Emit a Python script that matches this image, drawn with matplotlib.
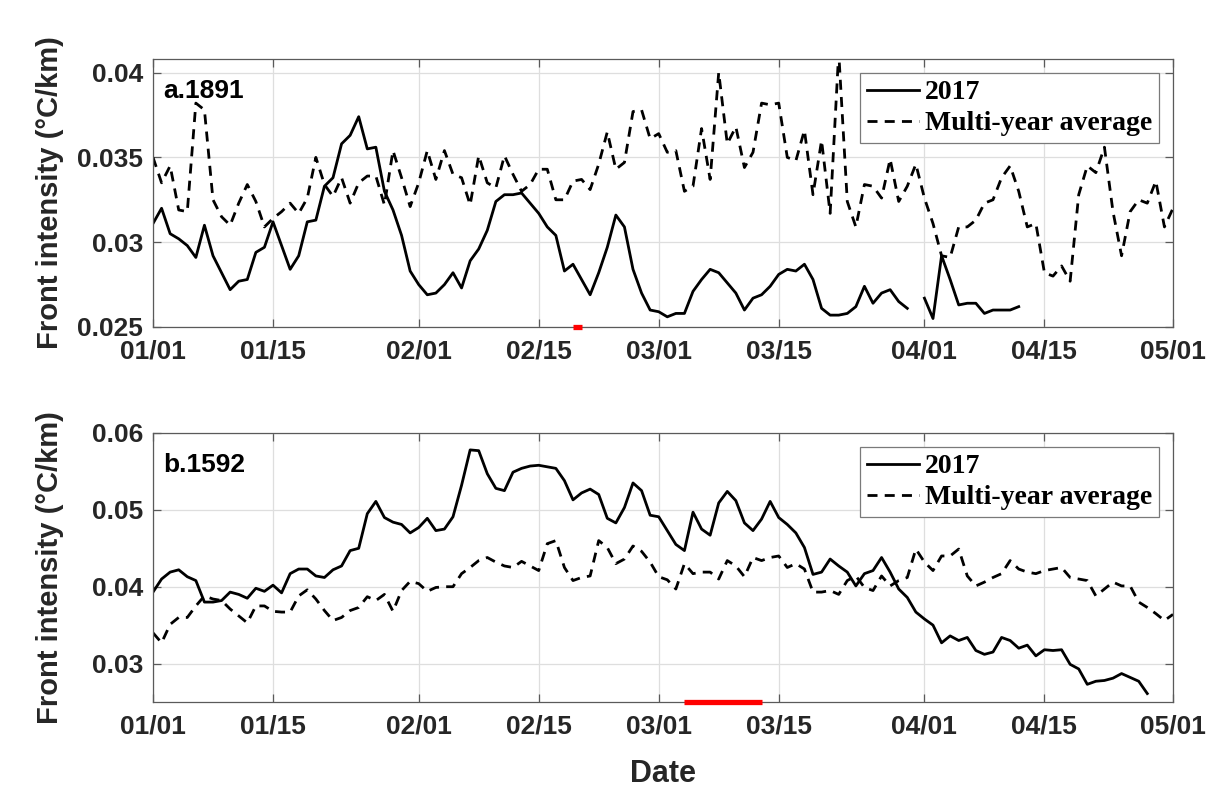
import numpy as np
import matplotlib
matplotlib.use("Agg")
import matplotlib.pyplot as plt

nan = np.nan

# ---------------- data ----------------
tick_days = [0, 14, 31, 45, 59, 73, 90, 104, 119]
tick_labels = ["01/01", "01/15", "02/01", "02/15", "03/01", "03/15", "04/01", "04/15", "05/01"]

a_2017 = [0.0311, 0.0320, 0.0305, 0.0302, 0.0298, 0.0291, 0.0310, 0.0292, 0.0282, 0.0272,
          0.0277, 0.0278, 0.0294, 0.0297, 0.0312, 0.0298, 0.0284, 0.0292, 0.0312, 0.0313,
          0.0333, 0.0338, 0.0358, 0.0363, 0.0374, 0.0355, 0.0356, 0.0330, 0.0319, 0.0304,
          0.0283, 0.0275, 0.0269, 0.0270, 0.0275, 0.0282, 0.0273, 0.0289, 0.0296, 0.0307,
          0.0324, 0.0328, 0.0328, 0.0329, 0.0323, 0.0317, 0.0309, 0.0304, 0.0283, 0.0287,
          0.0278, 0.0269, 0.0282, 0.0297, 0.0316, 0.0309, 0.0284, 0.0270, 0.0260, 0.0259,
          0.0256, 0.0258, 0.0258, 0.0271, 0.0278, 0.0284, 0.0282, 0.0276, 0.0270, 0.0260,
          0.0267, 0.0269, 0.0274, 0.0281, 0.0284, 0.0283, 0.0287, 0.0278, 0.0261, 0.0257,
          0.0257, 0.0258, 0.0262, 0.0274, 0.0264, 0.0270, 0.0272, 0.0265, 0.0261, nan,
          0.0267, 0.0255, 0.0292, 0.0278, 0.0263, 0.0264, 0.0264, 0.0258, 0.0260, 0.0260,
          0.0260, 0.0262, nan, nan, nan, nan, nan, nan, nan, nan,
          nan, nan, nan, nan, nan, nan, nan, nan, nan, nan]

a_avg = [0.0350, 0.0335, 0.0345, 0.0319, 0.0318, 0.0382, 0.0378, 0.0325, 0.0315, 0.0310,
         0.0323, 0.0334, 0.0324, 0.0309, 0.0314, 0.0318, 0.0323, 0.0317, 0.0326, 0.0350,
         0.0334, 0.0327, 0.0338, 0.0323, 0.0335, 0.0339, 0.0339, 0.0322, 0.0354, 0.0338,
         0.0321, 0.0335, 0.0354, 0.0337, 0.0354, 0.0340, 0.0338, 0.0322, 0.0351, 0.0335,
         0.0332, 0.0351, 0.0340, 0.0330, 0.0334, 0.0343, 0.0343, 0.0325, 0.0325, 0.0336,
         0.0337, 0.0331, 0.0346, 0.0365, 0.0343, 0.0347, 0.0377, 0.0378, 0.0361, 0.0364,
         0.0353, 0.0354, 0.0330, 0.0333, 0.0367, 0.0337, 0.0400, 0.0358, 0.0368, 0.0344,
         0.0353, 0.0382, 0.0381, 0.0382, 0.0350, 0.0348, 0.0366, 0.0328, 0.0360, 0.0317,
         0.0412, 0.0324, 0.0309, 0.0334, 0.0333, 0.0326, 0.0349, 0.0324, 0.0333, 0.0346,
         0.0326, 0.0311, 0.0292, 0.0291, 0.0309, 0.0309, 0.0313, 0.0323, 0.0325, 0.0338,
         0.0345, 0.0330, 0.0309, 0.0311, 0.0282, 0.0280, 0.0286, 0.0277, 0.0328, 0.0345,
         0.0341, 0.0356, 0.0318, 0.0292, 0.0318, 0.0325, 0.0323, 0.0336, 0.0309, 0.0320]

b_2017 = [0.0393, 0.0410, 0.0419, 0.0422, 0.0413, 0.0408, 0.0380, 0.0380, 0.0382, 0.0393,
          0.0390, 0.0385, 0.0398, 0.0394, 0.0402, 0.0392, 0.0417, 0.0423, 0.0423, 0.0414,
          0.0412, 0.0422, 0.0427, 0.0447, 0.0450, 0.0495, 0.0511, 0.0490, 0.0484, 0.0481,
          0.0470, 0.0477, 0.0489, 0.0473, 0.0475, 0.0491, 0.0532, 0.0578, 0.0577, 0.0547,
          0.0528, 0.0525, 0.0549, 0.0554, 0.0557, 0.0558, 0.0556, 0.0554, 0.0538, 0.0513,
          0.0522, 0.0527, 0.0520, 0.0489, 0.0483, 0.0503, 0.0535, 0.0525, 0.0493, 0.0491,
          0.0473, 0.0455, 0.0447, 0.0497, 0.0475, 0.0467, 0.0509, 0.0524, 0.0512, 0.0483,
          0.0473, 0.0488, 0.0511, 0.0490, 0.0481, 0.0470, 0.0451, 0.0416, 0.0419, 0.0436,
          0.0427, 0.0419, 0.0401, 0.0417, 0.0421, 0.0438, 0.0419, 0.0397, 0.0386, 0.0367,
          0.0358, 0.0350, 0.0327, 0.0336, 0.0330, 0.0334, 0.0317, 0.0312, 0.0315, 0.0334,
          0.0330, 0.0320, 0.0324, 0.0310, 0.0318, 0.0317, 0.0318, 0.0299, 0.0293, 0.0273,
          0.0277, 0.0278, 0.0281, 0.0287, 0.0282, 0.0277, 0.0261, nan, nan, nan]

b_avg = [0.0340, 0.0327, 0.0351, 0.0360, 0.0360, 0.0375, 0.0388, 0.0384, 0.0382, 0.0371,
         0.0362, 0.0353, 0.0375, 0.0375, 0.0368, 0.0367, 0.0367, 0.0388, 0.0396, 0.0384,
         0.0369, 0.0356, 0.0360, 0.0369, 0.0373, 0.0387, 0.0382, 0.0390, 0.0368, 0.0395,
         0.0407, 0.0404, 0.0394, 0.0399, 0.0400, 0.0400, 0.0417, 0.0425, 0.0434, 0.0438,
         0.0432, 0.0427, 0.0425, 0.0433, 0.0427, 0.0421, 0.0456, 0.0460, 0.0425, 0.0408,
         0.0412, 0.0414, 0.0460, 0.0451, 0.0430, 0.0436, 0.0453, 0.0446, 0.0432, 0.0413,
         0.0409, 0.0397, 0.0430, 0.0417, 0.0419, 0.0419, 0.0410, 0.0434, 0.0427, 0.0413,
         0.0438, 0.0434, 0.0438, 0.0440, 0.0425, 0.0430, 0.0423, 0.0393, 0.0393, 0.0395,
         0.0390, 0.0408, 0.0414, 0.0399, 0.0395, 0.0414, 0.0401, 0.0408, 0.0412, 0.0449,
         0.0432, 0.0421, 0.0440, 0.0440, 0.0449, 0.0414, 0.0401, 0.0406, 0.0412, 0.0417,
         0.0434, 0.0423, 0.0419, 0.0417, 0.0421, 0.0423, 0.0425, 0.0412, 0.0410, 0.0408,
         0.0388, 0.0397, 0.0406, 0.0401, 0.0401, 0.0380, 0.0373, 0.0365, 0.0356, 0.0364]

a_red = [49, 50]
b_red = [62, 71]

a_yticks = [0.025, 0.03, 0.035, 0.04]
a_yticklabels = ["0.025", "0.03", "0.035", "0.04"]
b_yticks = [0.03, 0.04, 0.05, 0.06]
b_yticklabels = ["0.03", "0.04", "0.05", "0.06"]

# ---------------- plotting ----------------
days = np.arange(len(a_avg))

fig = plt.figure(figsize=(12.26, 8.02), dpi=100)
ax1 = fig.add_axes([153 / 1226, 1 - 327 / 802, 1020 / 1226, 268 / 802])
ax2 = fig.add_axes([153 / 1226, 1 - 702 / 802, 1020 / 1226, 269 / 802])

sans = ["Liberation Sans", "DejaVu Sans"]
serif = ["Liberation Serif", "DejaVu Serif"]
dash = (0, (3.6, 2.6))
spine_c = "#5a5a5a"
txt_c = "#262626"

panels = [
    (ax1, a_2017, a_avg, (0.025, 0.0408), a_yticks, a_yticklabels, "a.1891", a_red),
    (ax2, b_2017, b_avg, (0.025, 0.06), b_yticks, b_yticklabels, "b.1592", b_red),
]

for ax, s2017, savg, ylim, yt, ytl, tag, red in panels:
    ax.plot(days, s2017, color="black", lw=2.0, label="2017")
    ax.plot(days, savg, color="black", lw=2.0, linestyle=dash, label="Multi-year average")
    ax.set_xlim(0, 119)
    ax.set_ylim(*ylim)
    ax.set_xticks(tick_days)
    ax.set_xticklabels(tick_labels)
    ax.set_yticks(yt)
    ax.set_yticklabels(ytl)
    ax.grid(True, color="#dedede", lw=0.9)
    ax.set_axisbelow(True)
    for sp in ax.spines.values():
        sp.set_color(spine_c)
        sp.set_linewidth(0.9)
    ax.tick_params(direction="in", length=6, width=0.9, color=spine_c,
                   top=True, right=True, labelcolor=txt_c, labelsize=19)
    ax.tick_params(axis="x", pad=9)
    ax.tick_params(axis="y", pad=7)
    for lab in ax.get_xticklabels() + ax.get_yticklabels():
        lab.set_fontfamily(sans)
        lab.set_fontweight("bold")
    ax.set_ylabel("Front intensity (°C/km)", fontsize=21, fontweight="bold",
                  family=sans, color=txt_c)
    ax.yaxis.set_label_coords(-0.087, 0.5)
    ax.text(10 / 1020, 1 - 20 / 268, tag, transform=ax.transAxes, fontsize=19,
            fontweight="bold", family=sans, color="black", ha="left", va="top")
    ax.plot(red, [ylim[0], ylim[0]], color="red", lw=3.8, solid_capstyle="butt",
            clip_on=False, zorder=5)
    leg = ax.legend(loc="upper right", prop={"family": serif, "weight": "bold", "size": 20},
                    frameon=True, fancybox=False, edgecolor="#7a7a7a", framealpha=1,
                    borderpad=0.25, labelspacing=0.2, handlelength=1.87,
                    handletextpad=0.22, borderaxespad=0.5)
    leg.get_frame().set_linewidth(0.9)

ax2.set_xlabel("Date", fontsize=22, fontweight="bold", family=sans, color=txt_c, labelpad=15)

fig.savefig("out.png", dpi=100)
